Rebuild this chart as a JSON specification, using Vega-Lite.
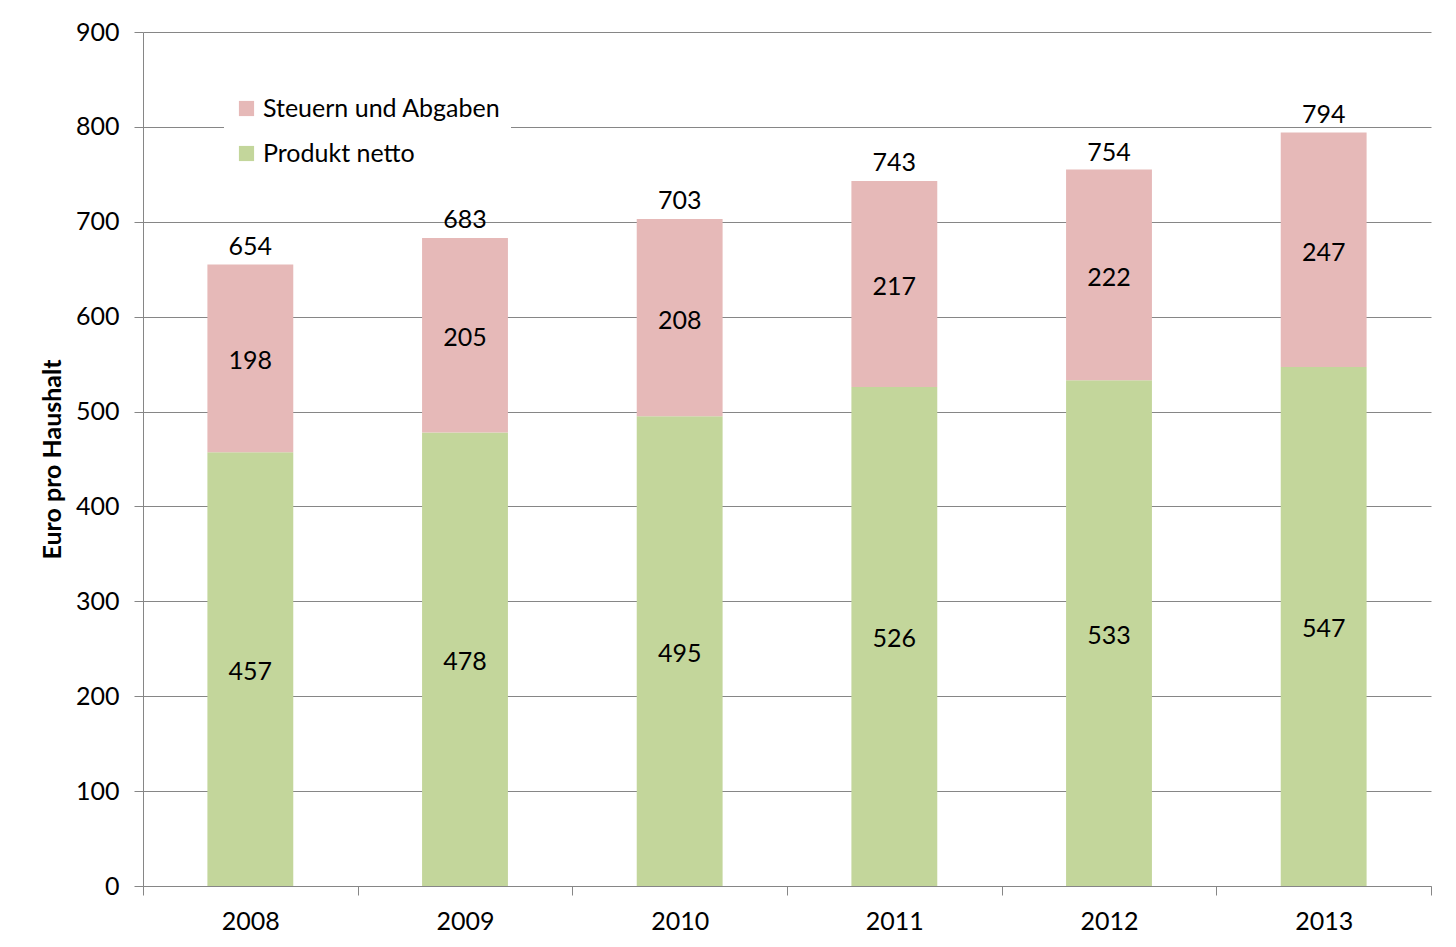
{
  "$schema": "https://vega.github.io/schema/vega-lite/v6.json",
  "width": 1288,
  "height": 854,
  "autosize": {"type": "none"},
  "padding": {"left": 143, "top": 32, "right": 25, "bottom": 61},
  "background": "white",
  "config": {
    "font": "Lato",
    "view": {"stroke": null},
    "axis": {"labelFont": "Lato", "labelColor": "black", "titleFont": "Lato"}
  },
  "datasets": {
    "segments": [
      {"Jahr": "2008", "Kategorie": "Produkt netto", "Wert": 457, "Ordnung": 1},
      {"Jahr": "2008", "Kategorie": "Steuern und Abgaben", "Wert": 198, "Ordnung": 2},
      {"Jahr": "2009", "Kategorie": "Produkt netto", "Wert": 478, "Ordnung": 1},
      {"Jahr": "2009", "Kategorie": "Steuern und Abgaben", "Wert": 205, "Ordnung": 2},
      {"Jahr": "2010", "Kategorie": "Produkt netto", "Wert": 495, "Ordnung": 1},
      {"Jahr": "2010", "Kategorie": "Steuern und Abgaben", "Wert": 208, "Ordnung": 2},
      {"Jahr": "2011", "Kategorie": "Produkt netto", "Wert": 526, "Ordnung": 1},
      {"Jahr": "2011", "Kategorie": "Steuern und Abgaben", "Wert": 217, "Ordnung": 2},
      {"Jahr": "2012", "Kategorie": "Produkt netto", "Wert": 533, "Ordnung": 1},
      {"Jahr": "2012", "Kategorie": "Steuern und Abgaben", "Wert": 222, "Ordnung": 2},
      {"Jahr": "2013", "Kategorie": "Produkt netto", "Wert": 547, "Ordnung": 1},
      {"Jahr": "2013", "Kategorie": "Steuern und Abgaben", "Wert": 247, "Ordnung": 2}
    ],
    "totals": [
      {"Jahr": "2008", "Summe": 654},
      {"Jahr": "2009", "Summe": 683},
      {"Jahr": "2010", "Summe": 703},
      {"Jahr": "2011", "Summe": 743},
      {"Jahr": "2012", "Summe": 754},
      {"Jahr": "2013", "Summe": 794}
    ]
  },
  "encoding": {
    "x": {
      "field": "Jahr",
      "type": "nominal",
      "scale": {"paddingInner": 0, "paddingOuter": 0},
      "axis": {
        "title": null,
        "labelAngle": 0,
        "labelFontSize": 25,
        "labelPadding": 14,
        "domainColor": "#868686",
        "tickColor": "#868686",
        "tickBand": "extent",
        "tickSize": 9,
        "grid": false
      }
    }
  },
  "layer": [
    {
      "data": {"name": "segments"},
      "mark": {"type": "bar", "width": {"band": 0.4}},
      "encoding": {
        "y": {
          "field": "Wert",
          "type": "quantitative",
          "stack": "zero",
          "scale": {"domain": [0, 900]},
          "axis": {
            "title": "Euro pro Haushalt",
            "titleFontSize": 25,
            "titleFontWeight": "bold",
            "titleColor": "black",
            "titlePadding": 10,
            "values": [0, 100, 200, 300, 400, 500, 600, 700, 800, 900],
            "labelFontSize": 25,
            "labelPadding": 15,
            "tickSize": 9,
            "tickColor": "#868686",
            "domainColor": "#868686",
            "grid": true,
            "gridColor": "#868686",
            "gridOpacity": 1
          }
        },
        "color": {
          "field": "Kategorie",
          "type": "nominal",
          "scale": {
            "domain": ["Steuern und Abgaben", "Produkt netto"],
            "range": ["#e6b9b8", "#c3d69b"]
          },
          "legend": {
            "title": null,
            "orient": "none",
            "legendX": 81,
            "legendY": 54,
            "fillColor": "white",
            "padding": 10,
            "symbolType": "square",
            "symbolSize": 230,
            "symbolOpacity": 1,
            "symbolStrokeWidth": 0,
            "labelFontSize": 25,
            "labelLimit": 500,
            "labelColor": "black",
            "rowPadding": 19,
            "labelOffset": 4
          }
        },
        "order": {"field": "Ordnung", "type": "quantitative"}
      }
    },
    {
      "data": {"name": "segments"},
      "mark": {"type": "text", "fontSize": 25, "color": "black", "dy": 3},
      "encoding": {
        "y": {"field": "Wert", "type": "quantitative", "stack": "zero", "bandPosition": 0.5},
        "text": {"field": "Wert", "type": "quantitative"},
        "order": {"field": "Ordnung", "type": "quantitative"}
      }
    },
    {
      "data": {"name": "totals"},
      "mark": {"type": "text", "fontSize": 25, "color": "black", "baseline": "bottom", "dy": -5},
      "encoding": {
        "y": {"field": "Summe", "type": "quantitative"},
        "text": {"field": "Summe", "type": "quantitative"}
      }
    }
  ]
}
